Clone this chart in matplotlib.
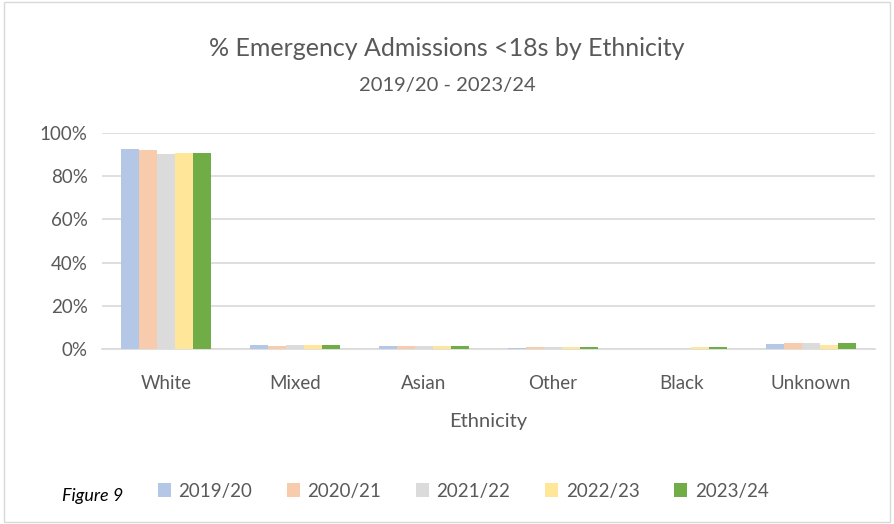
import numpy as np
import matplotlib.pyplot as plt
import matplotlib as mpl
from matplotlib.ticker import PercentFormatter

mpl.rcParams.update({'font.family': ['Lato', 'DejaVu Sans']})

categories = ['White', 'Mixed', 'Asian', 'Other', 'Black', 'Unknown']
years = ['2019/20', '2020/21', '2021/22', '2022/23', '2023/24']
values = {
    '2019/20': [92.6, 2.0, 1.4, 0.3, 0.1, 2.5],
    '2020/21': [92.1, 1.5, 1.4, 0.9, 0.1, 3.0],
    '2021/22': [90.3, 2.0, 1.4, 0.8, 0.1, 3.0],
    '2022/23': [90.7, 2.0, 1.4, 0.8, 0.7, 2.0],
    '2023/24': [90.7, 1.9, 1.4, 0.9, 0.9, 2.6],
}
colors = ['#b4c7e7', '#f8cbad', '#dbdbdb', '#ffe699', '#70ad47']
txt = '#595959'

fig = plt.figure(figsize=(8.94, 5.24), dpi=100)
ax = fig.add_axes([101.5/894, 1 - 349/524, 774/894, 216/524])

x = np.arange(len(categories))
w = 0.14
for i, (yr, c) in enumerate(zip(years, colors)):
    ax.bar(x + (i - 2) * w, values[yr], width=w, color=c, label=yr, zorder=3)

ax.set_xlim(-0.5, len(categories) - 0.5)
ax.set_ylim(0, 100)
ax.set_yticks(np.arange(0, 101, 20))
ax.yaxis.set_major_formatter(PercentFormatter(decimals=0))
ax.set_xticks(x)
ax.set_xticklabels(categories)
ax.grid(axis='y', color='#d9d9d9', linewidth=1.2, zorder=0)
for s in ['top', 'right', 'left']:
    ax.spines[s].set_visible(False)
ax.spines['bottom'].set_color('#d9d9d9')
ax.spines['bottom'].set_linewidth(1.2)
ax.tick_params(length=0, colors=txt, labelsize=13.5)
ax.tick_params(axis='x', pad=19)
ax.tick_params(axis='y', pad=10)
ax.set_xlabel('Ethnicity', color=txt, fontsize=14.5, labelpad=15)

fig.text(0.5, 1 - 48/524, '% Emergency Admissions <18s by Ethnicity', ha='center', va='center',
         fontsize=18, color=txt)
fig.text(0.5, 1 - 86/524, '2019/20 - 2023/24', ha='center', va='center', fontsize=14.5, color=txt)
fig.text(62/894, 1 - 496/524, 'Figure 9', ha='left', va='center', fontsize=13, style='italic', color='black')

fig.legend(loc='center', bbox_to_anchor=(463/894, 1 - 491/524), ncol=5, frameon=False,
           fontsize=13.5, labelcolor=txt, handlelength=0.7, handleheight=0.7,
           handletextpad=0.4, columnspacing=1.85)

fig.patches.append(mpl.patches.Rectangle((0.004, 0.004), 0.992, 0.992, transform=fig.transFigure,
                                         fill=False, edgecolor='#d9d9d9', linewidth=1))
fig.savefig('out.png', dpi=100)
